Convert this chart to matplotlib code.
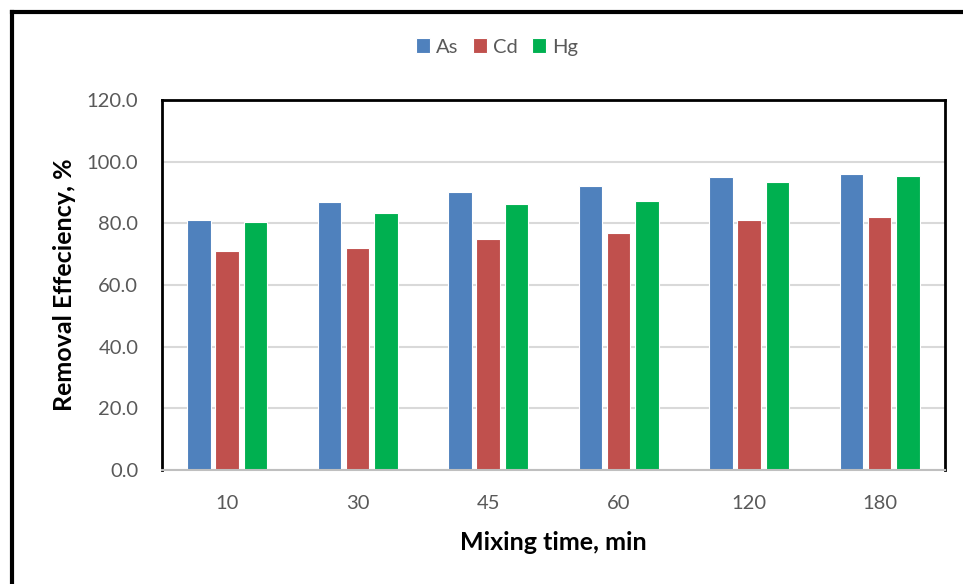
import numpy as np
import matplotlib.pyplot as plt
from matplotlib.lines import Line2D

plt.rcParams['font.family'] = ['Lato', 'DejaVu Sans']

times = ['10', '30', '45', '60', '120', '180']
as_vals = [81.0, 87.0, 90.0, 92.0, 95.0, 96.0]
cd_vals = [71.0, 72.0, 75.0, 77.0, 81.0, 82.0]
hg_vals = [80.3, 83.2, 86.3, 87.3, 93.3, 95.4]

series = [('As', as_vals, '#4f81bd'),
          ('Cd', cd_vals, '#c0504d'),
          ('Hg', hg_vals, '#00b050')]

fig = plt.figure(figsize=(9.63, 5.84), dpi=100)
ax = fig.add_axes([0.1682, 0.1952, 0.8131, 0.6336])

x = np.arange(len(times))
w = 0.18
step = 0.218
for i, (name, vals, col) in enumerate(series):
    ax.bar(x + (i - 1) * step, vals, w, color=col, edgecolor='white',
           linewidth=0.8, label=name, zorder=3)

ax.set_xlim(-0.5, len(times) - 0.5)
ax.set_ylim(0, 120)
ax.set_yticks(np.arange(0, 121, 20))
ax.set_yticklabels(['%.1f' % v for v in np.arange(0, 121, 20)])
ax.set_xticks(x)
ax.set_xticklabels(times)
ax.tick_params(axis='both', length=0, labelsize=14.5, colors='#595959')
ax.tick_params(axis='y', pad=17)
ax.tick_params(axis='x', pad=18)
ax.grid(axis='y', color='#d9d9d9', linewidth=1.5, zorder=0)

for s in ['left', 'top', 'right']:
    ax.spines[s].set_color('black')
    ax.spines[s].set_linewidth(2)
ax.spines['bottom'].set_color('#bfbfbf')
ax.spines['bottom'].set_linewidth(1.5)
ax.spines['bottom'].set_zorder(4)

ax.set_xlabel('Mixing time, min', fontsize=18, fontweight='bold', labelpad=14)
ax.set_ylabel('Removal Effeciency, %', fontsize=18, fontweight='bold', labelpad=8)

ax.legend(loc='center', bbox_to_anchor=(497 / 963, 1 - 47 / 584),
          bbox_transform=fig.transFigure, ncol=3, frameon=False,
          fontsize=14.5, labelcolor='#595959', handlelength=0.7,
          handleheight=0.7, handletextpad=0.3, columnspacing=0.7)

# outer chart frame (only top and left edges visible)
fig.add_artist(Line2D([11.5 / 963, 1], [1 - 12 / 584, 1 - 12 / 584],
                      transform=fig.transFigure, color='black', linewidth=3))
fig.add_artist(Line2D([11.5 / 963, 11.5 / 963], [0, 1 - 12 / 584],
                      transform=fig.transFigure, color='black', linewidth=3))

fig.savefig('out.png', dpi=100)
